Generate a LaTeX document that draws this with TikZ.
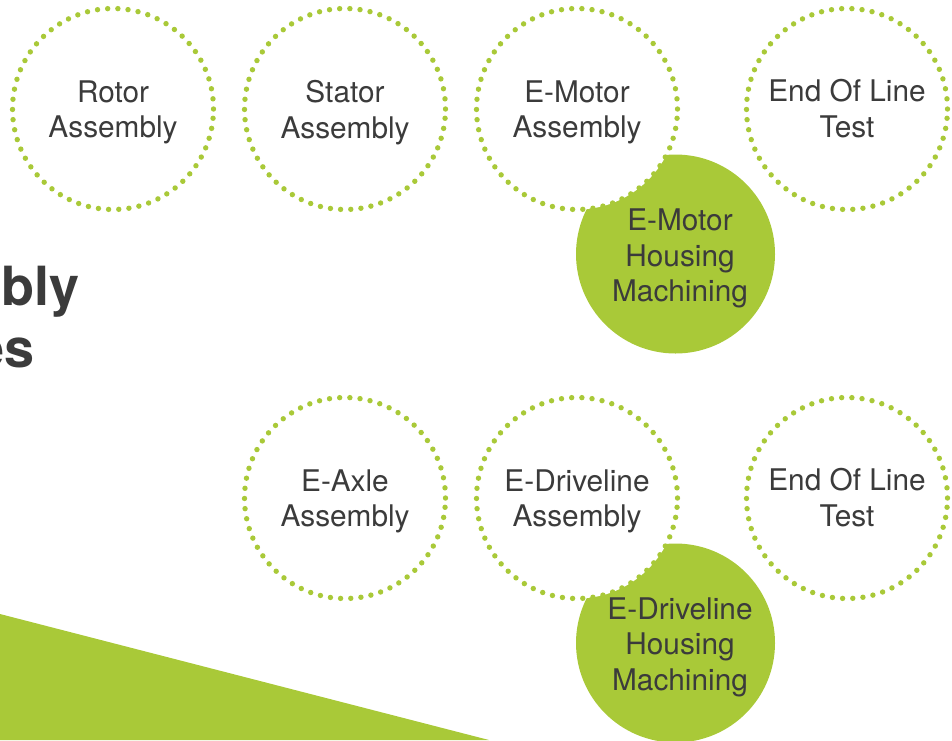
\documentclass[tikz,border=0pt]{standalone}
\usepackage{fontspec}
\setmainfont{TeX Gyre Heros}
\definecolor{lime}{HTML}{A9C938}
\definecolor{ink}{HTML}{3B3B3B}
\begin{document}
\begin{tikzpicture}[x=1pt,y=-1pt,
  labelfont/.style={text=ink, font=\fontsize{29.8}{35.5}\selectfont, align=center, inner sep=0pt},
  dotring/.style={circle, minimum size=201pt, inner sep=0pt, fill=white, draw=lime, line width=5.4pt, line cap=round, dash pattern=on 0pt off 10.2pt},
  greendisc/.style={circle, minimum size=199pt, inner sep=0pt, fill=lime},
  bigword/.style={font=\fontsize{54}{65}\selectfont\bfseries, text=ink, inner sep=0pt, anchor=base east}]
\clip (0,0) rectangle (952,740);
\fill[lime] (0,614) -- (489,740) -- (0,740) -- cycle;
\node[bigword] (w1) at (80,305) {bly};
\node[bigword] (w2) at (35,367) {es};
% green discs
\node[greendisc] (hm1) at (675.5,254) {};
\node[labelfont] (hm1t) at (680,258.5) {E-Motor\\Housing\\Machining};
\node[greendisc] (hm2) at (675.5,643) {};
\node[labelfont] (hm2t) at (680,647) {E-Driveline\\Housing\\Machining};
% dotted rings
\node[dotring] (rot) at (113,109) {};
\node[dotring] (sta) at (345,109) {};
\node[dotring] (emo) at (577,109) {};
\node[dotring] (eol1) at (847,109) {};
\node[dotring] (axl) at (345,498) {};
\node[dotring] (edl) at (577,498) {};
\node[dotring] (eol2) at (847,498) {};
% ring labels
\node[labelfont] (rott) at (113,112.5) {Rotor\\Assembly};
\node[labelfont] (stat) at (345,112.5) {Stator\\Assembly};
\node[labelfont] (emot) at (577,112.5) {E-Motor\\Assembly};
\node[labelfont] (eol1t) at (847,108.5) {End Of Line\\Test};
\node[labelfont] (axlt) at (345,501.5) {E-Axle\\Assembly};
\node[labelfont] (edlt) at (577,501.5) {E-Driveline\\Assembly};
\node[labelfont] (eol2t) at (847,497.5) {End Of Line\\Test};
\end{tikzpicture}
\end{document}
